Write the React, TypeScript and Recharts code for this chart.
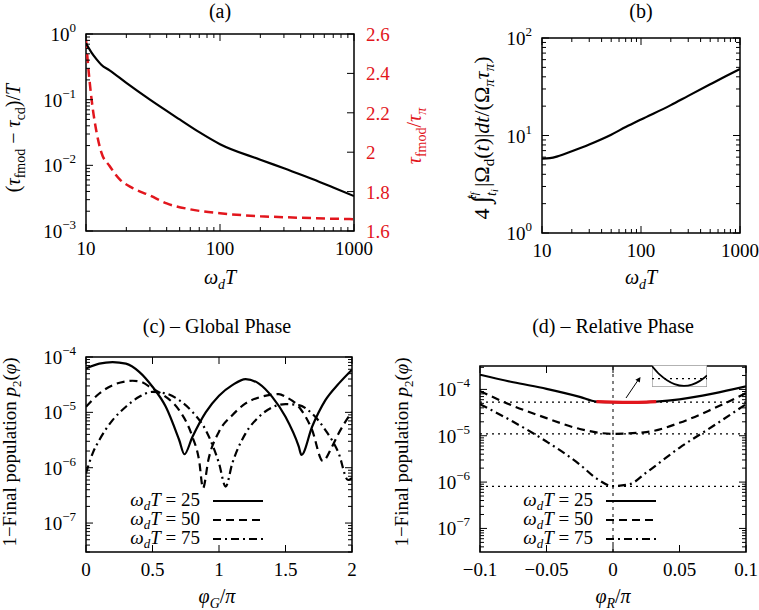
import React from 'react'
import {
  Legend,
  Line,
  LineChart,
  ReferenceArea,
  ReferenceLine,
  XAxis,
  YAxis,
} from 'recharts'

const FONT = '"Liberation Serif", "DejaVu Serif", "Times New Roman", serif'
const RED = '#e2161d'
const W = 759
const H = 610

// (a) pulse duration vs omega_d T
const wTa = [10, 11, 12, 13, 15, 20, 30, 50, 70, 100, 200, 300, 500, 700, 1000]
const tauDiff = [0.72, 0.52, 0.41, 0.34, 0.28, 0.18, 0.1, 0.05, 0.032, 0.021, 0.0122, 0.009, 0.0061, 0.0046, 0.0034]
const wTaRed = [10, 10.5, 11, 12, 13, 15, 18, 22, 30, 40, 60, 100, 200, 300, 500, 1000]
const tauRatio = [2.57, 2.4, 2.27, 2.1, 2.0, 1.93, 1.86, 1.82, 1.78, 1.74, 1.71, 1.69, 1.675, 1.67, 1.665, 1.66]
const tauRatioTicks = [1.6, 1.8, 2, 2.2, 2.4, 2.6]

// (b) pulse area vs omega_d T
const wTb = [10, 12, 15, 20, 30, 50, 70, 100, 200, 300, 500, 700, 1000]
const pulseArea = [5.8, 5.85, 6.2, 6.9, 8.1, 10.2, 12.2, 14.6, 20.5, 25.5, 33.5, 40, 48]

// (c) global phase
const wTvals = ['25', '50', '75']
const phiG25 = [0, 0.1, 0.2, 0.3, 0.4, 0.5, 0.6, 0.7, 0.74, 0.8, 0.9, 1.0, 1.1, 1.2, 1.3, 1.4, 1.5, 1.6, 1.62, 1.7, 1.8, 1.9, 2.0]
const pG25 = [6.2e-5, 7.6e-5, 8.1e-5, 7.6e-5, 5.4e-5, 2.9e-5, 1.26e-5, 3.2e-6, 1.75e-6, 3.6e-6, 1.0e-5, 2.0e-5, 3.1e-5, 4.0e-5, 3.3e-5, 1.9e-5, 8.3e-6, 2.4e-6, 1.7e-6, 5.5e-6, 1.66e-5, 3.3e-5, 5.9e-5]
const phiG50 = [0, 0.1, 0.2, 0.3, 0.35, 0.4, 0.5, 0.6, 0.7, 0.8, 0.85, 0.88, 0.92, 1.0, 1.1, 1.2, 1.3, 1.4, 1.45, 1.5, 1.6, 1.7, 1.78, 1.85, 1.9, 2.0]
const pG50 = [1.26e-5, 2.19e-5, 3.09e-5, 3.63e-5, 3.72e-5, 3.63e-5, 2.69e-5, 1.91e-5, 1.1e-5, 3.63e-6, 1.38e-6, 4.27e-7, 1.38e-6, 4.47e-6, 8.9e-6, 1.45e-5, 1.86e-5, 2.09e-5, 2.14e-5, 1.91e-5, 1.26e-5, 4.8e-6, 1.32e-6, 2.4e-6, 4.2e-6, 1.02e-5]
const phiG75 = [0, 0.05, 0.1, 0.2, 0.3, 0.4, 0.5, 0.6, 0.7, 0.8, 0.9, 1.0, 1.05, 1.1, 1.2, 1.3, 1.4, 1.5, 1.6, 1.7, 1.8, 1.9, 1.97, 2.0]
const pG75 = [7.94e-7, 1.82e-6, 3.16e-6, 7.24e-6, 1.26e-5, 1.91e-5, 2.34e-5, 2.19e-5, 1.66e-5, 1.02e-5, 4.79e-6, 1.2e-6, 4.57e-7, 1.2e-6, 4.17e-6, 8.3e-6, 1.23e-5, 1.41e-5, 1.35e-5, 9.5e-6, 4.79e-6, 1.82e-6, 6.0e-7, 6.5e-7]
const phiGTicks = [0, 0.5, 1, 1.5, 2]

// (d) relative phase
const phiR25 = [-0.1, -0.075, -0.05, -0.025, -0.0125, 0, 0.0125, 0.025, 0.0325, 0.05, 0.075, 0.1]
const pR25 = [2.08e-4, 1.43e-4, 1.03e-4, 6.9e-5, 5.45e-5, 5.3e-5, 5.23e-5, 5.3e-5, 5.45e-5, 6.1e-5, 8.1e-5, 1.16e-4]
const phiRRed = [-0.0125, 0, 0.0125, 0.025, 0.0325]
const pRRed = [5.45e-5, 5.3e-5, 5.23e-5, 5.3e-5, 5.45e-5]
const phiR50 = [-0.1, -0.075, -0.05, -0.025, 0, 0.025, 0.05, 0.075, 0.1]
const pR50 = [9.2e-5, 4.4e-5, 2.4e-5, 1.4e-5, 1.1e-5, 1.2e-5, 1.9e-5, 3.8e-5, 8.3e-5]
const phiR75 = [-0.1, -0.075, -0.05, -0.025, -0.0125, 0, 0.0125, 0.025, 0.05, 0.075, 0.1]
const pR75 = [4.8e-5, 2.0e-5, 7.5e-6, 2.4e-6, 1.2e-6, 8.2e-7, 9e-7, 1.6e-6, 5.5e-6, 1.6e-5, 4.8e-5]
const pRMinima = [5.3e-5, 1.1e-5, 8.1e-7]
const phiRTicks = [-0.1, -0.05, 0, 0.05, 0.1]

// inset of (d): zoom on the red part of the 25 curve
const insetPhi = [-0.012, -0.006, 0, 0.006, 0.0136, 0.02, 0.026, 0.032]
const insetP = [5.42e-5, 5.34e-5, 5.285e-5, 5.248e-5, 5.23e-5, 5.242e-5, 5.276e-5, 5.33e-5]

const DASH: Record<string, string | undefined> = { '25': undefined, '50': '8 5', '75': '8 4 2 4' }

const pts = (xs: number[], ys: number[]) => xs.map((x, i) => ({ x, y: ys[i] }))

const logTicks = (lo: number, hi: number) => {
  const out: number[] = []
  for (let e = Math.floor(Math.log10(lo)); e <= Math.ceil(Math.log10(hi)); e++) {
    for (let m = 1; m < 10; m++) {
      const v = +(m * Math.pow(10, e)).toPrecision(3)
      if (v >= lo * 0.999 && v <= hi * 1.001) out.push(v)
    }
  }
  return out
}

const isDecade = (v: number) => Math.abs(Math.log10(v) - Math.round(Math.log10(v))) < 1e-6
const expText = (v: number) => {
  const e = Math.round(Math.log10(v))
  return e < 0 ? '\u2212' + -e : String(e)
}
const minus = (v: number) => (v < 0 ? '\u2212' + String(-v) : String(v))

const TXT = { fontFamily: FONT, fontSize: 19, fill: '#000' }

const xTick = (top: number, log: boolean, fmt: (v: number) => string) => (p: any) => {
  const { x, y } = p
  const v = p.payload.value
  const major = !log || isDecade(v)
  const len = major ? 7 : 4
  return (
    <g>
      <line x1={x} x2={x} y1={y} y2={y - len} stroke="#000" />
      <line x1={x} x2={x} y1={top} y2={top + len} stroke="#000" />
      {major && (
        <text x={x} y={y + 24} textAnchor="middle" {...TXT}>
          {fmt(v)}
        </text>
      )}
    </g>
  )
}

const yTickLog = (mirrorX: number | null) => (p: any) => {
  const { x, y } = p
  const v = p.payload.value
  const major = isDecade(v)
  const len = major ? 7 : 4
  return (
    <g>
      <line x1={x} x2={x + len} y1={y} y2={y} stroke="#000" />
      {mirrorX !== null && <line x1={mirrorX} x2={mirrorX - len} y1={y} y2={y} stroke="#000" />}
      {major && (
        <text x={x - 10} y={y + 7} textAnchor="end" {...TXT}>
          10<tspan dy={-9} fontSize={13}>{expText(v)}</tspan>
        </text>
      )}
    </g>
  )
}

const redTick = (p: any) => {
  const { x, y } = p
  return (
    <g>
      <line x1={x} x2={x - 7} y1={y} y2={y} stroke="#000" />
      <text x={x + 12} y={y + 7} textAnchor="start" {...TXT} fill={RED}>
        {String(p.payload.value)}
      </text>
    </g>
  )
}

const WdT = ({ x, y }: { x: number; y: number }) => (
  <text x={x} y={y} textAnchor="middle" {...TXT} fontSize={20} fontStyle="italic">
    ω<tspan dy={5} fontSize={14}>d</tspan>
    <tspan dy={-5}>T</tspan>
  </text>
)

const Title = ({ x, y, t }: { x: number; y: number; t: string }) => (
  <text x={x} y={y} textAnchor="middle" {...TXT} fontSize={20}>
    {t}
  </text>
)

const PopLabel = ({ x, y }: { x: number; y: number }) => (
  <text transform={`rotate(-90 ${x} ${y})`} x={x} y={y} textAnchor="middle" {...TXT}>
    1−Final population <tspan fontStyle="italic">p</tspan>
    <tspan dy={5} fontSize={13}>2</tspan>
    <tspan dy={-5}>(</tspan>
    <tspan fontStyle="italic">φ</tspan>)
  </text>
)

const legendBox = (p: any) => (
  <div style={{ fontFamily: FONT, fontSize: 19, color: '#000' }}>
    {(p.payload ?? [])
      .filter((e: any) => wTvals.includes(e.value))
      .map((e: any) => (
        <div key={e.value} style={{ display: 'flex', alignItems: 'center', height: 19 }}>
          <span style={{ width: 90, textAlign: 'right', whiteSpace: 'nowrap', lineHeight: '19px' }}>
            <i>ω</i>
            <span style={{ fontSize: 13, fontStyle: 'italic', position: 'relative', top: 4 }}>d</span>
            <i>T</i> = {e.value}
          </span>
          <svg width={50} height={8} style={{ marginLeft: 13 }}>
            <line x1={0} x2={50} y1={4} y2={4} stroke="#000" strokeWidth={2} strokeDasharray={DASH[e.value]} />
          </svg>
        </div>
      ))}
  </div>
)

const abs: React.CSSProperties = { position: 'absolute', left: 0, top: 0 }
const noAxis = { tickLine: false, axisLine: false, tickSize: 0, tickMargin: 0, interval: 0 as const }

// plot rectangles: left, right, top, bottom
const A = { l: 86, r: 354, t: 34, b: 231 }
const B = { l: 542, r: 740, t: 38, b: 233 }
const C = { l: 86, r: 352, t: 357, b: 552 }
const D = { l: 480, r: 746, t: 366, b: 552 }

const PanelA = () => (
  <div style={abs}>
    <LineChart width={W} height={H} margin={{ left: A.l - 40, right: W - A.r - 40, top: A.t, bottom: H - A.b - 30 }}>
      <XAxis
        type="number"
        dataKey="x"
        scale="log"
        domain={[10, 1000]}
        allowDataOverflow
        ticks={logTicks(10, 1000)}
        tick={xTick(A.t, true, String)}
        height={30}
        {...noAxis}
        label={() => (
          <g>
            <WdT x={220} y={284} />
            <Title x={220} y={18} t="(a)" />
          </g>
        )}
      />
      <YAxis
        yAxisId="l"
        type="number"
        scale="log"
        domain={[0.001, 1]}
        allowDataOverflow
        ticks={logTicks(0.001, 1)}
        tick={yTickLog(null)}
        width={40}
        {...noAxis}
        label={() => (
          <text transform="rotate(-90 20 138)" x={20} y={138} textAnchor="middle" {...TXT} fontSize={20}>
            (<tspan fontStyle="italic">τ</tspan>
            <tspan dy={5} fontSize={14}>fmod</tspan>
            <tspan dy={-5}> − </tspan>
            <tspan fontStyle="italic">τ</tspan>
            <tspan dy={5} fontSize={14}>cd</tspan>
            <tspan dy={-5}>)/</tspan>
            <tspan fontStyle="italic">T</tspan>
          </text>
        )}
      />
      <YAxis
        yAxisId="r"
        orientation="right"
        type="number"
        domain={[1.6, 2.6]}
        allowDataOverflow
        ticks={tauRatioTicks}
        tick={redTick}
        width={40}
        {...noAxis}
        label={() => (
          <text transform="rotate(-90 421 136)" x={421} y={136} textAnchor="middle" {...TXT} fontSize={20} fill={RED}>
            <tspan fontStyle="italic">τ</tspan>
            <tspan dy={5} fontSize={14}>fmod</tspan>
            <tspan dy={-5}>/</tspan>
            <tspan fontStyle="italic">τ</tspan>
            <tspan dy={5} fontSize={14} fontStyle="italic">π</tspan>
          </text>
        )}
      />
      <ReferenceArea yAxisId="l" x1={10} x2={1000} y1={0.001} y2={1} fill="none" stroke="#000" strokeWidth={1.5} ifOverflow="visible" />
      <Line yAxisId="r" data={pts(wTaRed, tauRatio)} dataKey="y" type="monotone" stroke={RED} strokeWidth={2.5} strokeDasharray="9 5" dot={false} activeDot={false} isAnimationActive={false} />
      <Line yAxisId="l" data={pts(wTa, tauDiff)} dataKey="y" type="monotone" stroke="#000" strokeWidth={2.2} dot={false} activeDot={false} isAnimationActive={false} />
    </LineChart>
  </div>
)

const PanelB = () => (
  <div style={abs}>
    <LineChart width={W} height={H} margin={{ left: B.l - 40, right: W - B.r, top: B.t, bottom: H - B.b - 30 }}>
      <XAxis
        type="number"
        dataKey="x"
        scale="log"
        domain={[10, 1000]}
        allowDataOverflow
        ticks={logTicks(10, 1000)}
        tick={xTick(B.t, true, String)}
        height={30}
        {...noAxis}
        label={() => (
          <g>
            <WdT x={641} y={284} />
            <Title x={641} y={18} t="(b)" />
          </g>
        )}
      />
      <YAxis
        type="number"
        scale="log"
        domain={[1, 100]}
        allowDataOverflow
        ticks={logTicks(1, 100)}
        tick={yTickLog(B.r)}
        width={40}
        {...noAxis}
        label={() => (
          <text transform="rotate(-90 489 138)" x={489} y={138} textAnchor="middle" {...TXT} fontSize={22}>
            4 <tspan fontSize={26}>∫</tspan>
            <tspan dy={7} fontSize={14} fontStyle="italic">t</tspan>
            <tspan dy={2} fontSize={10} fontStyle="italic">i</tspan>
            <tspan dx={-10} dy={-22} fontSize={14} fontStyle="italic">t</tspan>
            <tspan dy={2} fontSize={10} fontStyle="italic">f</tspan>
            <tspan dy={11}> |Ω</tspan>
            <tspan dy={5} fontSize={15}>d</tspan>
            <tspan dy={-5}>(</tspan>
            <tspan fontStyle="italic">t</tspan>
            <tspan>)|</tspan>
            <tspan fontStyle="italic">dt</tspan>
            <tspan>/(Ω</tspan>
            <tspan dy={5} fontSize={15} fontStyle="italic">π</tspan>
            <tspan dy={-5} fontStyle="italic">τ</tspan>
            <tspan dy={5} fontSize={15} fontStyle="italic">π</tspan>
            <tspan dy={-5}>)</tspan>
          </text>
        )}
      />
      <ReferenceArea x1={10} x2={1000} y1={1} y2={100} fill="none" stroke="#000" strokeWidth={1.5} ifOverflow="visible" />
      <Line data={pts(wTb, pulseArea)} dataKey="y" type="monotone" stroke="#000" strokeWidth={2.2} dot={false} activeDot={false} isAnimationActive={false} />
    </LineChart>
  </div>
)

const PanelC = () => (
  <div style={abs}>
    <LineChart width={W} height={H} margin={{ left: C.l - 40, right: W - C.r, top: C.t, bottom: H - C.b - 30 }}>
      <XAxis
        type="number"
        dataKey="x"
        domain={[0, 2]}
        allowDataOverflow
        ticks={phiGTicks}
        tick={xTick(C.t, false, String)}
        height={30}
        {...noAxis}
        label={() => (
          <g>
            <text x={217} y={603} textAnchor="middle" {...TXT} fontSize={20}>
              <tspan fontStyle="italic">φ</tspan>
              <tspan dy={5} fontSize={14} fontStyle="italic">G</tspan>
              <tspan dy={-5}>/</tspan>
              <tspan fontStyle="italic">π</tspan>
            </text>
            <Title x={217} y={333} t="(c) – Global Phase" />
          </g>
        )}
      />
      <YAxis
        type="number"
        scale="log"
        domain={[3e-8, 1e-4]}
        allowDataOverflow
        ticks={logTicks(3e-8, 1e-4)}
        tick={yTickLog(C.r)}
        width={40}
        {...noAxis}
        label={() => <PopLabel x={16} y={452} />}
      />
      <ReferenceArea x1={0} x2={2} y1={3e-8} y2={1e-4} fill="none" stroke="#000" strokeWidth={1.5} ifOverflow="visible" />
      <Line name={wTvals[0]} data={pts(phiG25, pG25)} dataKey="y" type="monotone" stroke="#000" strokeWidth={2.2} dot={false} activeDot={false} isAnimationActive={false} />
      <Line name={wTvals[1]} data={pts(phiG50, pG50)} dataKey="y" type="monotone" stroke="#000" strokeWidth={2.2} strokeDasharray={DASH['50']} dot={false} activeDot={false} isAnimationActive={false} />
      <Line name={wTvals[2]} data={pts(phiG75, pG75)} dataKey="y" type="monotone" stroke="#000" strokeWidth={2.2} strokeDasharray={DASH['75']} dot={false} activeDot={false} isAnimationActive={false} />
      <Legend layout="vertical" align="center" verticalAlign="middle" wrapperStyle={{ left: 110, top: 491, width: 170, height: 60 }} content={legendBox} />
    </LineChart>
  </div>
)

const PanelD = () => (
  <div style={abs}>
    <LineChart width={W} height={H} margin={{ left: D.l - 40, right: W - D.r, top: D.t, bottom: H - D.b - 30 }}>
      <XAxis
        type="number"
        dataKey="x"
        domain={[-0.1, 0.1]}
        allowDataOverflow
        ticks={phiRTicks}
        tick={xTick(D.t, false, minus)}
        height={30}
        {...noAxis}
        label={() => (
          <g>
            <text x={613} y={603} textAnchor="middle" {...TXT} fontSize={20}>
              <tspan fontStyle="italic">φ</tspan>
              <tspan dy={5} fontSize={14} fontStyle="italic">R</tspan>
              <tspan dy={-5}>/</tspan>
              <tspan fontStyle="italic">π</tspan>
            </text>
            <Title x={613} y={333} t="(d) – Relative Phase" />
          </g>
        )}
      />
      <YAxis
        type="number"
        scale="log"
        domain={[3.1e-8, 3.2e-4]}
        allowDataOverflow
        ticks={logTicks(3.1e-8, 3.2e-4)}
        tick={yTickLog(D.r)}
        width={40}
        {...noAxis}
        label={() => <PopLabel x={408} y={452} />}
      />
      <ReferenceArea x1={-0.1} x2={0.1} y1={3.1e-8} y2={3.2e-4} fill="none" stroke="#000" strokeWidth={1.5} ifOverflow="visible" />
      <ReferenceLine x={0} stroke="#000" strokeWidth={1} strokeDasharray="3 4" />
      {pRMinima.map((v) => (
        <ReferenceLine key={v} y={v} stroke="#000" strokeWidth={1.2} strokeDasharray="2 4" />
      ))}
      <Line name={wTvals[0]} data={pts(phiR25, pR25)} dataKey="y" type="monotone" stroke="#000" strokeWidth={2.2} dot={false} activeDot={false} isAnimationActive={false} />
      <Line name={wTvals[1]} data={pts(phiR50, pR50)} dataKey="y" type="monotone" stroke="#000" strokeWidth={2.2} strokeDasharray={DASH['50']} dot={false} activeDot={false} isAnimationActive={false} />
      <Line name={wTvals[2]} data={pts(phiR75, pR75)} dataKey="y" type="monotone" stroke="#000" strokeWidth={2.2} strokeDasharray={DASH['75']} dot={false} activeDot={false} isAnimationActive={false} />
      <Line name="red" legendType="none" data={pts(phiRRed, pRRed)} dataKey="y" type="monotone" stroke={RED} strokeWidth={3.2} dot={false} activeDot={false} isAnimationActive={false} />
      <Legend layout="vertical" align="center" verticalAlign="middle" wrapperStyle={{ left: 503, top: 491, width: 170, height: 60 }} content={legendBox} />
    </LineChart>
  </div>
)

const Inset = () => (
  <div style={{ position: 'absolute', left: 652, top: 365 }}>
    <LineChart width={55} height={22} margin={{ left: 0, right: 0, top: 0, bottom: 0 }}>
      <XAxis type="number" dataKey="x" domain={[-0.012, 0.032]} allowDataOverflow hide />
      <YAxis type="number" domain={[5.22e-5, 5.43e-5]} allowDataOverflow hide />
      <ReferenceArea x1={-0.012} x2={0.032} y1={5.22e-5} y2={5.43e-5} fill="#fff" fillOpacity={1} stroke="#999" strokeWidth={1.3} ifOverflow="visible" />
      <ReferenceLine y={pRMinima[0]} stroke="#000" strokeWidth={1.2} strokeDasharray="2 4" />
      <Line data={pts(insetPhi, insetP)} dataKey="y" type="monotone" stroke="#000" strokeWidth={1.8} dot={false} activeDot={false} isAnimationActive={false} />
    </LineChart>
  </div>
)

export default function App() {
  return (
    <div style={{ position: 'absolute', left: 0, top: 0, width: W, height: H, background: '#fff' }}>
      <PanelA />
      <PanelB />
      <PanelC />
      <PanelD />
      <Inset />
      <svg width={W} height={H} style={{ position: 'absolute', left: 0, top: 0, pointerEvents: 'none' }}>
        <line x1={626} y1={398} x2={638.5} y2={379.5} stroke="#000" strokeWidth={1} />
        <polygon points="640.5,377 639.8,382.6 635.4,379.7" fill="#000" />
      </svg>
    </div>
  )
}
